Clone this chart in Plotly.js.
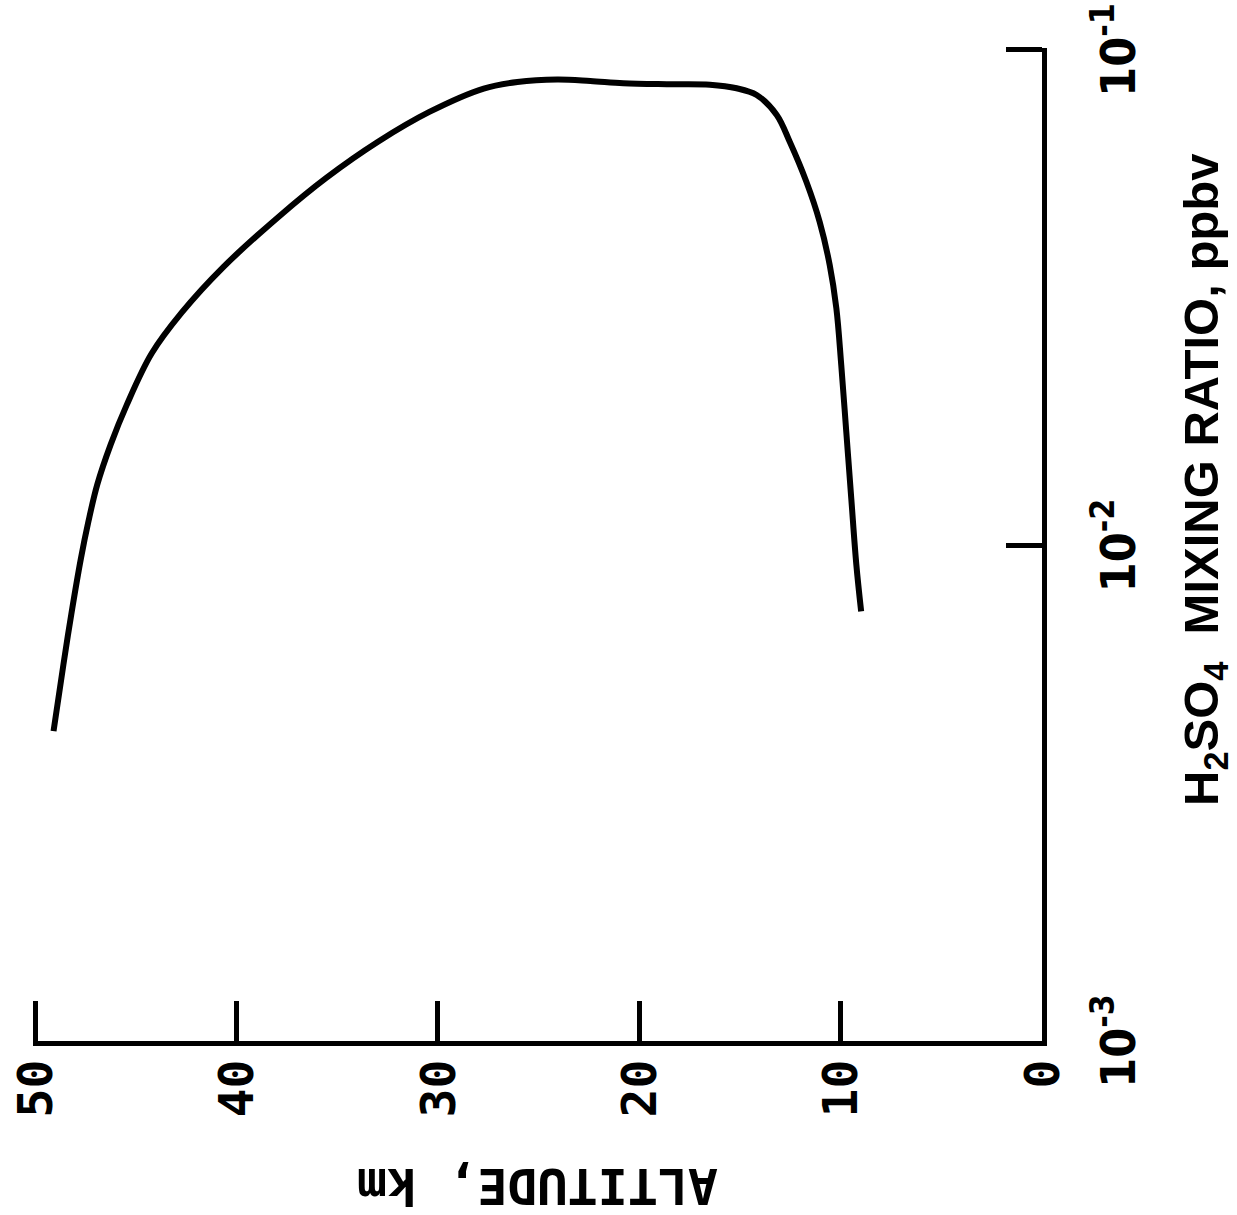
<!DOCTYPE html>
<html>
<head>
<meta charset="utf-8">
<script src="https://cdn.plot.ly/plotly-3.0.1.min.js"></script>
<style>
  html, body { margin: 0; padding: 0; background: #fff; width: 1237px; height: 1215px; overflow: hidden; }
  /* The figure is laid out with altitude vertical, then turned a quarter turn
     counter-clockwise so the altitude axis runs along the bottom of the page. */
  #chart {
    position: absolute; left: 0; top: 0;
    width: 1215px; height: 1237px;
    transform-origin: 0 0;
    transform: translate(0, 1215px) rotate(-90deg);
  }
</style>
</head>
<body>
<div id="chart"></div>
<script>
// H2SO4 vapour mixing-ratio profile (ppbv) against altitude (km)
const altitudeKm = [49.08, 48.59, 48.20, 47.72, 47.35, 46.91, 46.24, 45.45, 44.21, 42.72,
                    40.64, 37.87, 35.54, 32.97, 30.42, 27.72, 26.05, 24.07, 22.43, 20.79,
                    18.63, 16.49, 15.16, 14.17, 13.18, 12.52, 11.70, 11.04, 10.54, 10.21,
                    9.97, 9.72, 9.47, 9.22, 8.98];
const h2so4Ppbv  = [4.22e-3, 5.75e-3, 7.26e-3, 9.42e-3, 1.117e-2, 1.327e-2, 1.60e-2, 1.92e-2, 2.44e-2, 2.95e-2,
                    3.65e-2, 4.62e-2, 5.52e-2, 6.53e-2, 7.50e-2, 8.36e-2, 8.62e-2, 8.72e-2, 8.66e-2, 8.57e-2,
                    8.53e-2, 8.51e-2, 8.37e-2, 8.11e-2, 7.40e-2, 6.52e-2, 5.42e-2, 4.50e-2, 3.68e-2, 3.01e-2,
                    2.32e-2, 1.70e-2, 1.244e-2, 9.16e-3, 7.36e-3];

// Axis ticks and labels
const ratioTickVals  = [0.001, 0.01, 0.1];
const ratioTickText  = ['10<sup>-3</sup>', '10<sup>-2</sup>', '10<sup>-1</sup>'];
const altTickVals    = [0, 10, 20, 30, 40, 50];
const altTickText    = ['0', '10', '20', '30', '40', '50'];

const ratioTitle = 'H<sub>2</sub>SO<sub>4</sub>\u00a0\u00a0MIXING RATIO, ppbv';
const altTitle   = 'ALTITUDE, km';

const lettering = '"DejaVu Sans Mono", monospace';

const trace = {
  x: h2so4Ppbv,
  y: altitudeKm,
  type: 'scatter',
  mode: 'lines',
  line: { color: '#000', width: 6, shape: 'spline', smoothing: 1 },
  hoverinfo: 'skip'
};

// Ranges reach ~2px past the end ticks: Plotly drops inside ticks that sit
// right on an axis end, and the 50 km and 10^-1 ticks are wanted.
const layout = {
  width: 1215,
  height: 1237,
  margin: { l: 174, r: 48, t: 33, b: 195 },
  paper_bgcolor: '#fff',
  plot_bgcolor: '#fff',
  showlegend: false,
  xaxis: {
    type: 'log',
    range: [-3, -0.996],
    tickvals: ratioTickVals,
    ticktext: ratioTickText,
    ticks: 'inside',
    ticklen: 36,
    tickwidth: 5,
    tickcolor: '#000',
    showline: true,
    linewidth: 5,
    linecolor: '#000',
    showgrid: false,
    zeroline: false,
    ticklabelstandoff: 30,
    ticklabeloverflow: 'allow',
    tickfont: { family: '"Liberation Sans Narrow", "DejaVu Sans Condensed", sans-serif', size: 48, color: '#000', weight: 'bold' }
  },
  yaxis: {
    range: [0, 50.1],
    tickvals: altTickVals,
    ticktext: altTickText,
    ticks: 'inside',
    ticklen: 40,
    tickwidth: 5,
    tickcolor: '#000',
    showline: true,
    linewidth: 5,
    linecolor: '#000',
    showgrid: false,
    zeroline: false,
    ticklabelstandoff: 4,
    ticklabeloverflow: 'allow',
    tickfont: { family: lettering, size: 48, color: '#000', weight: 'bold' },
    title: { text: altTitle, standoff: 40, font: { family: lettering, size: 50, color: '#000', weight: 'bold' } }
  },
  annotations: [{
    text: ratioTitle,
    xref: 'paper', yref: 'paper',
    x: 0.565, y: -0.161,
    xanchor: 'center', yanchor: 'middle',
    showarrow: false,
    font: { family: '"Liberation Sans", Arial, sans-serif', size: 49, color: '#000', weight: 'bold' }
  }]
};

Plotly.newPlot('chart', [trace], layout, { staticPlot: true, displayModeBar: false });
</script>
</body>
</html>
